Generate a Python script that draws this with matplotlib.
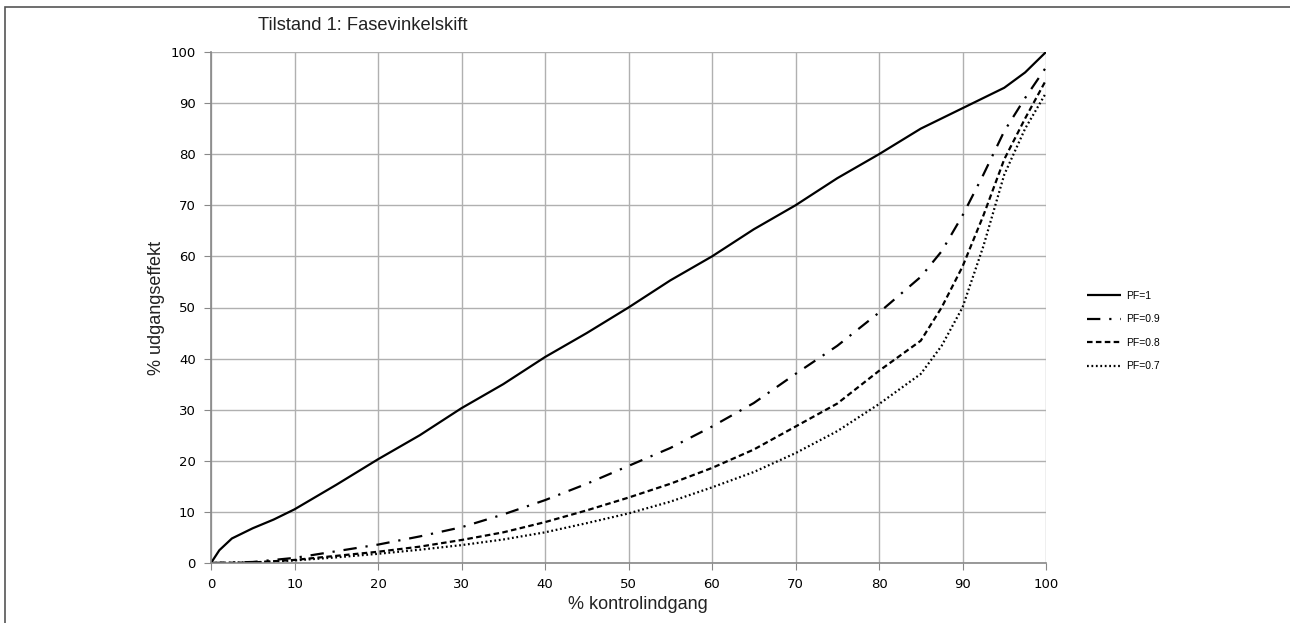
import matplotlib
matplotlib.use("Agg")
import matplotlib.pyplot as plt
from matplotlib.patches import Rectangle

plt.rcParams['font.family'] = ['Liberation Sans', 'DejaVu Sans']

title = "Tilstand 1: Fasevinkelskift"
xlabel = "% kontrolindgang"
ylabel = "% udgangseffekt"

x_pf1 = [0, 1, 2.5, 5, 7.5, 10, 15, 20, 25, 30, 35, 40, 45, 50, 55, 60, 65, 70, 75, 80, 85, 90, 95, 97.5, 100]
y_pf1 = [0, 2.5, 4.8, 6.8, 8.5, 10.5, 15.3, 20.3, 25, 30.3, 35, 40.3, 45, 50, 55.3, 60, 65.3, 70, 75.3, 80, 85, 89, 93, 96, 100]

x_pf = [0, 5, 10, 15, 20, 25, 30, 35, 40, 45, 50, 55, 60, 65, 70, 75, 80, 85, 87.5, 90, 92.5, 95, 97.5, 100]
y_pf09 = [0, 0.2, 1.0, 2.3, 3.6, 5.2, 7.0, 9.5, 12.3, 15.5, 19.0, 22.5, 26.7, 31.3, 37.0, 42.5, 49.0, 56.0, 61.0, 68.0, 76.0, 84.5, 91.0, 97.0]
y_pf08 = [0, 0.1, 0.6, 1.4, 2.2, 3.2, 4.5, 6.0, 8.0, 10.3, 12.8, 15.5, 18.6, 22.2, 26.7, 31.2, 37.6, 43.5, 50.0, 58.0, 68.0, 79.0, 87.0, 94.5]
y_pf07 = [0, 0.1, 0.5, 1.1, 1.8, 2.6, 3.5, 4.6, 6.0, 7.8, 9.7, 12.0, 14.8, 17.8, 21.5, 25.8, 31.1, 37.0, 42.5, 50.0, 62.0, 76.0, 85.0, 92.0]

labels = ["PF=1", "PF=0.9", "PF=0.8", "PF=0.7"]

fig = plt.figure(figsize=(12.9, 6.23), dpi=100)
ax = fig.add_axes([211/1290, 60/623, 835/1290, 511/623])

lw = 1.6
ax.plot(x_pf1, y_pf1, color='black', lw=lw, label=labels[0], solid_capstyle='butt')
ax.plot(x_pf, y_pf09, color='black', lw=lw, label=labels[1], dashes=(6, 4, 1, 4))
ax.plot(x_pf, y_pf08, color='black', lw=lw, label=labels[2], dashes=(2.5, 1.5))
ax.plot(x_pf, y_pf07, color='black', lw=lw, label=labels[3], dashes=(0.8, 1.2))

ax.set_xlim(0, 100)
ax.set_ylim(0, 100)
ax.set_xticks(range(0, 101, 10))
ax.set_yticks(range(0, 101, 10))
ax.grid(True, color='#b0b0b0', lw=1)
ax.set_axisbelow(True)
for s in ['top', 'right']:
    ax.spines[s].set_visible(False)
for s in ['left', 'bottom']:
    ax.spines[s].set_color('#888888')
    ax.spines[s].set_linewidth(1.2)
ax.tick_params(axis='both', direction='out', length=5, color='#888888', labelsize=10, pad=6)
for t in ax.get_xticklabels() + ax.get_yticklabels():
    t.set_family(['DejaVu Sans'])
    t.set_fontsize(9.5)

ax.set_xlabel(xlabel, fontsize=13, color='#222222', labelpad=3)
ax.xaxis.set_label_coords((638 - 211) / 835, -0.065)
ax.set_ylabel(ylabel, fontsize=13, color='#222222', labelpad=4)

fig.text(258/1290, 1 - 25/623, title, fontsize=13.2, color='#222222', ha='left', va='center')

leg = ax.legend(loc='center left', bbox_to_anchor=(1.038, 0.454), frameon=False,
                fontsize=7.5, handlelength=3.3, handletextpad=0.45, labelspacing=1.3,
                borderpad=0.4)

fig.patches.append(Rectangle((5/1290, -0.1), 2, 1 - 7/623 + 0.1, transform=fig.transFigure,
                             fill=False, edgecolor='#555555', lw=1.2))

fig.savefig("out.png", dpi=100)
